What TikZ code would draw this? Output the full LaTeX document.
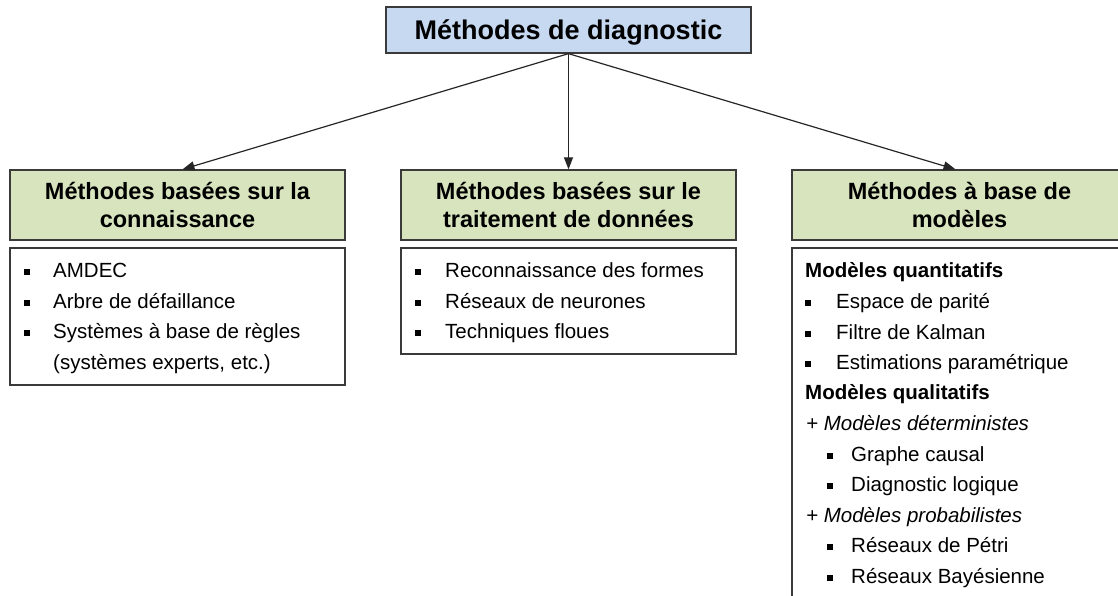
\documentclass[tikz,border=0pt]{standalone}
\usepackage{fontspec}
\setmainfont{Liberation Sans}
\usetikzlibrary{arrows.meta,calc}
\definecolor{topblue}{HTML}{C6D9F1}
\definecolor{hdrgreen}{HTML}{D7E4BD}
\definecolor{edge}{HTML}{3A3A3A}
\newcommand\blt{\rule[2.5pt]{6pt}{6pt}}
\newcommand\bitem[2]{\makebox[#1][l]{\blt}#2}
\begin{document}
\begin{tikzpicture}[x=1pt,y=-1pt,
  topbox/.style={draw=edge, line width=1.3pt, fill=topblue, minimum width=365pt, minimum height=46pt, inner sep=0pt, font=\fontsize{27}{32}\selectfont\bfseries},
  hdr/.style={draw=edge, line width=1.3pt, fill=hdrgreen, minimum width=335pt, minimum height=70pt, inner sep=0pt, align=center, font=\fontsize{23.5}{28}\selectfont\bfseries},
  listbox/.style={draw=edge, line width=1.3pt, fill=white, minimum width=335pt, inner sep=0pt},
  item/.style={anchor=base west, inner sep=0pt, font=\fontsize{20.5}{24}\selectfont},
  conn/.style={draw=black!85, line width=1.2pt, -{Triangle[length=12pt,width=9pt]}}]
\useasboundingbox (0,0) rectangle (1118,596);
\clip (0,0) rectangle (1118,596);
% top
\node[topbox, text depth=0pt, text height=19pt] (top) at (568.5,30) {Méthodes de diagnostic};
% headers
\node[hdr] (h1) at (177.5,205) {Méthodes basées sur la\\connaissance};
\node[hdr] (h2) at (568.5,205) {Méthodes basées sur le\\traitement de données};
\node[hdr] (h3) at (959.5,205) {Méthodes à base de\\modèles};
% list boxes
\node[listbox, minimum height=137pt] (l1) at (177.5,316.5) {};
\node[listbox, minimum height=106pt] (l2) at (568.5,301) {};
\node[listbox, minimum height=362pt] (l3) at (959.5,429) {};
% connectors
\draw[conn] (top.south) -- ($(h1.north)+(5,0)$);
\draw[conn] (top.south) -- (h2.north);
\draw[conn] (top.south) -- ($(h3.north)+(-4,0)$);
% left list
\node[item] (a1) at (24,277) {\bitem{29pt}{AMDEC}};
\node[item] (a2) at (24,308) {\bitem{29pt}{Arbre de défaillance}};
\node[item] (a3) at (24,338) {\bitem{29pt}{Systèmes à base de règles}};
\node[item] (a4) at (53,369) {(systèmes experts, etc.)};
% middle list
\node[item] (b1) at (415,277) {\bitem{30pt}{Reconnaissance des formes}};
\node[item] (b2) at (415,308) {\bitem{30pt}{Réseaux de neurones}};
\node[item] (b3) at (415,338) {\bitem{30pt}{Techniques floues}};
% right list
\node[item, font=\fontsize{20.5}{24}\selectfont\bfseries] (c1) at (805,277) {Modèles quantitatifs};
\node[item] (c2) at (805,308) {\bitem{31pt}{Espace de parité}};
\node[item] (c3) at (805,339) {\bitem{31pt}{Filtre de Kalman}};
\node[item] (c4) at (805,369) {\bitem{31pt}{Estimations paramétrique}};
\node[item, font=\fontsize{20.5}{24}\selectfont\bfseries] (c5) at (805,399) {Modèles qualitatifs};
\node[item, font=\fontsize{20.5}{24}\selectfont\itshape] (c6) at (806,430) {+ Modèles déterministes};
\node[item] (c7) at (827,461) {\bitem{24pt}{Graphe causal}};
\node[item] (c8) at (827,491) {\bitem{24pt}{Diagnostic logique}};
\node[item, font=\fontsize{20.5}{24}\selectfont\itshape] (c9) at (806,522) {+ Modèles probabilistes};
\node[item] (c10) at (827,552) {\bitem{24pt}{Réseaux de Pétri}};
\node[item] (c11) at (827,583) {\bitem{24pt}{Réseaux Bayésienne}};
\end{tikzpicture}
\end{document}
